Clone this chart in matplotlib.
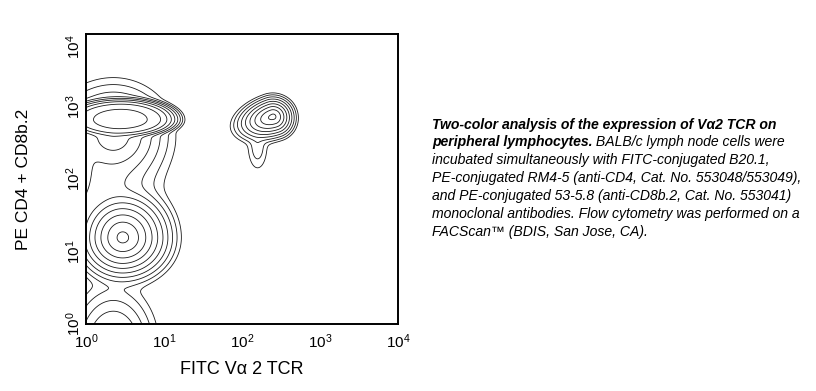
import numpy as np
import matplotlib
matplotlib.use("Agg")
import matplotlib.pyplot as plt

plt.rcParams['font.family'] = ['Liberation Sans', 'DejaVu Sans']

# cell populations (log10 units of FITC / PE).
# "height" is the log of the peak density, "shape" the kernel exponent.
pop_names = ["CD4/CD8 Va2-", "CD4/CD8 shoulder", "DN / B cells", "left edge", "between",
             "bottom edge", "Va2+ T cells", "Va2+ tail"]
pop_x = [0.45, 0.35, 0.47, -0.20, 0.30, 0.35, 2.40, 2.20]
pop_y = [2.82, 2.60, 1.19, 2.10, 1.95, -0.30, 2.86, 2.45]
pop_sx_left = [0.50, 0.25, 0.16, 0.15, 0.30, 0.20, 0.140, 0.08]
pop_sx_right = [0.48, 0.25, 0.17, 0.15, 0.30, 0.20, 0.078, 0.08]
pop_sy_down = [0.17, 0.25, 0.16, 0.30, 0.35, 0.30, 0.085, 0.20]
pop_sy_up = [0.20, 0.25, 0.18, 0.30, 0.35, 0.30, 0.080, 0.20]
pop_tilt = [0, 0, 0, 0, 0, 0, 20, 0]
pop_height = [-1.77, -4.3, -0.7, -4.0, -6.8, -5.0, -1.7, -8.2]
pop_shape = [4.0, 1.5, 1.5, 1.5, 1.5, 1.5, 1.5, 1.5]

x_ticks = [1, 10, 100, 1000, 10000]
y_ticks = [1, 10, 100, 1000, 10000]

caption_bold_1 = "Two-color analysis of the expression of V\u03b12 TCR on"
caption_bold_2 = "peripheral lymphocytes."
caption_rest_2 = " BALB/c lymph node cells were"
caption_lines = [
    "incubated simultaneously with FITC-conjugated B20.1,",
    "PE-conjugated RM4-5 (anti-CD4, Cat. No. 553048/553049),",
    "and PE-conjugated 53-5.8 (anti-CD8b.2, Cat. No. 553041)",
    "monoclonal antibodies. Flow cytometry was performed on a",
    "FACScan\u2122 (BDIS, San Jose, CA).",
]

gx = np.linspace(0, 4, 500)
gy = np.linspace(0, 4, 500)
LX, LY = np.meshgrid(gx, gy)
dens = np.zeros_like(LX)
for i in range(len(pop_names)):
    th = np.deg2rad(pop_tilt[i])
    u = (LX - pop_x[i]) * np.cos(th) + (LY - pop_y[i]) * np.sin(th)
    v = -(LX - pop_x[i]) * np.sin(th) + (LY - pop_y[i]) * np.cos(th)
    u = u / np.where(u < 0, pop_sx_left[i], pop_sx_right[i])
    v = v / np.where(v < 0, pop_sy_down[i], pop_sy_up[i])
    s = np.sqrt(u * u + v * v)
    dens += np.exp(pop_height[i] - s ** pop_shape[i])

# contour levels one e-fold apart
levels = np.exp(-np.arange(10, -1, -1.0))

fig = plt.figure(figsize=(8.16, 3.91), dpi=100)
ax = fig.add_axes([0.1054, 0.1714, 0.3823, 0.7417])
ax.contour(10 ** LX, 10 ** LY, dens, levels=levels, colors='#1a1a1a', linewidths=0.6)
ax.set_xscale('log')
ax.set_yscale('log')
ax.set_xlim(1, 10000)
ax.set_ylim(1, 10000)
ax.set_xticks(x_ticks)
ax.set_yticks(y_ticks)
ax.minorticks_off()
ax.tick_params(length=0, labelsize=11)
ax.tick_params(axis='x', pad=6)
ax.tick_params(axis='y', pad=2)
ylabs = ax.get_yticklabels()
for lab in ylabs:
    lab.set_rotation(90)
    lab.set_va('center')
ylabs[-1].set_va('top')
for s in ax.spines.values():
    s.set_linewidth(1.4)

ax.set_xlabel("FITC V\u03b1 2 TCR", fontsize=13, labelpad=7)
ax.set_ylabel("PE CD4 + CD8b.2", fontsize=12.5, labelpad=24)

# caption
x0 = 432 / 816
line_y = [125, 142.3, 160, 178.3, 196, 213.7, 231.7]
fs = 10.1
fig.text(x0, 1 - line_y[0] / 391, caption_bold_1, fontsize=fs, style='italic',
         weight='bold', va='center')
t = fig.text(x0, 1 - line_y[1] / 391, caption_bold_2, fontsize=fs, style='italic',
             weight='bold', va='center')
renderer = fig.canvas.get_renderer()
bb = t.get_window_extent(renderer)
x1 = fig.transFigure.inverted().transform((bb.x1, bb.y0))[0]
fig.text(x1, 1 - line_y[1] / 391, caption_rest_2, fontsize=fs, style='italic',
         va='center')
for k, line in enumerate(caption_lines):
    fig.text(x0, 1 - line_y[k + 2] / 391, line, fontsize=fs, style='italic',
             va='center')

fig.savefig("out.png", dpi=100)
